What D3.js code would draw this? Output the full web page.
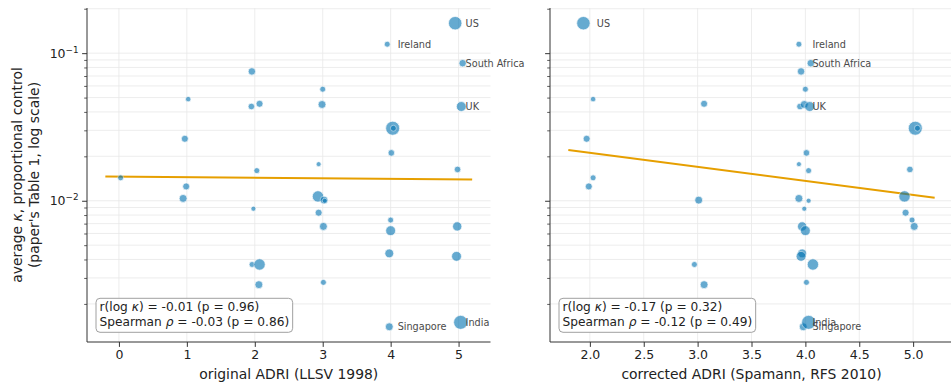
<!DOCTYPE html>
<html>
<head>
<meta charset="utf-8">
<script src="https://cdn.jsdelivr.net/npm/d3@7"></script>
<style>
  body { margin: 0; background: #fff; }
  svg { display: block; }
  text { font-family: "DejaVu Sans", sans-serif; }
</style>
</head>
<body>
<svg id="chart" width="951" height="383"></svg>
<script>
// Average kappa (proportional control) per country
const kappa = [0.1596, 0.115, 0.0855, 0.0752, 0.057, 0.0488, 0.0435, 0.0454, 0.0449, 0.0435,
  0.031, 0.031, 0.0263, 0.0211, 0.0177, 0.016, 0.0163, 0.0143, 0.0125, 0.01037,
  0.0107, 0.0101, 0.0100, 0.00883, 0.0083, 0.0074, 0.0067, 0.0067, 0.00627, 0.0044,
  0.0042, 0.0037, 0.0037, 0.0027, 0.0028, 0.0014, 0.0015];
// Original ADRI (LLSV 1998), jittered horizontally
const adriOriginal = [4.95, 3.95, 5.06, 1.957, 3.0, 1.02, 1.95, 2.07, 2.99, 5.04,
  4.03, 4.04, 0.97, 4.01, 2.94, 2.03, 4.985, 0.025, 0.99, 0.945,
  2.93, 3.02, 3.03, 1.98, 2.94, 4.0, 3.01, 4.98, 4.0, 3.98,
  4.97, 1.96, 2.07, 2.06, 3.01, 3.98, 5.03];
// Corrected ADRI (Spamann, RFS 2010), same jitter
const adriCorrected = [1.94, 3.94, 4.05, 3.96, 4.0, 2.03, 3.95, 3.06, 3.99, 4.04,
  5.02, 5.04, 1.97, 4.01, 3.94, 4.03, 4.97, 2.03, 1.99, 3.94,
  4.92, 3.01, 4.03, 3.99, 4.93, 4.99, 5.01, 3.97, 4.0, 3.97,
  3.96, 2.97, 4.07, 3.06, 4.01, 3.98, 4.03];
// Marker weight (area-proportional)
const weight = [46, 9, 14, 14, 9, 7.5, 11, 12.5, 16, 25,
  50, 9, 12.5, 11, 6.4, 9, 11, 9, 12.5, 16,
  33, 16, 6.4, 6.4, 12.5, 9, 16, 22, 25, 20,
  25, 9, 33, 16, 9, 16, 50];
const country = ["US", "Ireland", "South Africa", "", "", "", "", "", "", "UK",
  "", "", "", "", "", "", "", "", "", "",
  "", "", "", "", "", "", "", "", "", "",
  "", "", "", "", "", "Singapore", "India"];

// Fitted log-linear trend endpoints
const fitOriginalX = [-0.2, 5.2];
const fitOriginalK = [0.01462, 0.01393];
const fitCorrectedX = [1.8, 5.2];
const fitCorrectedK = [0.0221, 0.01047];

// Correlation statistics: r(log kappa), p, Spearman rho, p
const statsOriginal = [-0.01, 0.96, -0.03, 0.86];
const statsCorrected = [-0.17, 0.32, -0.12, 0.49];

// Axis ticks
const ticksOriginal = [0, 1, 2, 3, 4, 5];
const ticksCorrected = [2.0, 2.5, 3.0, 3.5, 4.0, 4.5, 5.0];
const yMajor = [0.01, 0.1];
const yMajorLabels = [["10", "\u22122"], ["10", "\u22121"]];

const svg = d3.select("#chart");
const plotTop = 8, plotBottom = 342;
const y = d3.scaleLog().domain([0.001104, 0.2023]).range([plotBottom, plotTop]);
const r = d3.scaleSqrt().domain([0, 50]).range([0, 7]);
const yMinor = y.ticks().filter(v => !yMajor.some(m => Math.abs(m - v) / m < 1e-6));

const blue = "#0072B2", orange = "#E69F00", gridColor = "#e8e8e8", ink = "#333";

function panel(opt) {
  const x = d3.scaleLinear().domain(opt.domain).range([opt.left, opt.right]);
  const g = svg.append("g");

  // grid
  g.append("g").selectAll("line").data(y.ticks()).join("line")
    .attr("x1", opt.left).attr("x2", opt.right)
    .attr("y1", d => y(d)).attr("y2", d => y(d))
    .attr("stroke", gridColor).attr("stroke-width", 0.8);
  g.append("g").selectAll("line").data(opt.ticks).join("line")
    .attr("x1", d => x(d)).attr("x2", d => x(d))
    .attr("y1", plotTop).attr("y2", plotBottom)
    .attr("stroke", gridColor).attr("stroke-width", 0.8);

  // trend line
  g.append("path")
    .datum(d3.zip(opt.fitX, opt.fitK))
    .attr("d", d3.line().x(d => x(d[0])).y(d => y(d[1])))
    .attr("fill", "none").attr("stroke", orange).attr("stroke-width", 2);

  // points
  g.append("g").selectAll("circle").data(d3.range(kappa.length)).join("circle")
    .attr("cx", i => x(opt.xs[i])).attr("cy", i => y(kappa[i]))
    .attr("r", i => r(weight[i]))
    .attr("fill", blue).attr("stroke", "#fff").attr("stroke-width", 0.7)
    .attr("opacity", 0.6);

  // country labels
  g.append("g").selectAll("text").data(d3.range(kappa.length).filter(i => country[i])).join("text")
    .attr("x", i => x(Math.round(opt.xs[i])) + 7)
    .attr("y", i => y(kappa[i]))
    .attr("dy", "0.35em")
    .attr("font-size", 9.7).attr("fill", "#4a4a4a")
    .text(i => country[i]);

  // spines
  g.append("line").attr("x1", opt.left).attr("x2", opt.left).attr("y1", plotTop).attr("y2", plotBottom)
    .attr("stroke", ink).attr("stroke-width", 1);
  g.append("line").attr("x1", opt.left).attr("x2", opt.right).attr("y1", plotBottom).attr("y2", plotBottom)
    .attr("stroke", ink).attr("stroke-width", 1);

  // x axis
  const ax = g.append("g").attr("transform", `translate(0,${plotBottom})`)
    .call(d3.axisBottom(x).tickValues(opt.ticks).tickFormat(opt.fmt).tickSize(4.9).tickSizeOuter(0).tickPadding(3.2));
  ax.select(".domain").remove();
  ax.selectAll(".tick line").attr("stroke", ink);
  ax.selectAll(".tick text").attr("fill", "#222").attr("font-size", 12.5).attr("font-family", "DejaVu Sans");

  // y axis ticks
  const ay = g.append("g").attr("transform", `translate(${opt.left},0)`)
    .call(d3.axisLeft(y).tickValues(yMajor).tickFormat("").tickSize(4.9).tickSizeOuter(0));
  ay.select(".domain").remove();
  ay.selectAll(".tick line").attr("stroke", ink);
  const am = g.append("g").attr("transform", `translate(${opt.left},0)`)
    .call(d3.axisLeft(y).tickValues(yMinor).tickFormat("").tickSize(2.8).tickSizeOuter(0));
  am.select(".domain").remove();
  am.selectAll(".tick line").attr("stroke", ink).attr("stroke-width", 0.8);

  if (opt.yLabels) {
    yMajor.forEach((v, k) => {
      const t = g.append("text").attr("x", opt.left - 8.5).attr("y", y(v)).attr("dy", "0.35em")
        .attr("text-anchor", "end").attr("font-size", 12.5).attr("fill", "#222");
      t.append("tspan").text(yMajorLabels[k][0]);
      t.append("tspan").attr("dy", -5).attr("font-size", 8.8).text(yMajorLabels[k][1]);
    });
    const l1 = g.append("text").attr("transform", `translate(22,${(plotTop + plotBottom) / 2}) rotate(-90)`)
      .attr("text-anchor", "middle").attr("font-size", 13.9).attr("fill", "#222");
    l1.append("tspan").text("average ");
    l1.append("tspan").attr("font-style", "italic").text("\u03ba");
    l1.append("tspan").text(", proportional control");
    g.append("text").attr("transform", `translate(38.7,${(plotTop + plotBottom) / 2}) rotate(-90)`)
      .attr("text-anchor", "middle").attr("font-size", 13.9).attr("fill", "#222")
      .text("(paper's Table 1, log scale)");
  }

  // x label
  g.append("text").attr("x", (opt.left + opt.right) / 2).attr("y", 379)
    .attr("text-anchor", "middle").attr("font-size", 13.9).attr("fill", "#222")
    .text(opt.xLabel);

  // statistics box
  const s = opt.stats;
  const box = g.append("g");
  const rect = box.append("rect");
  const tx = opt.left + 12.5;
  const t1 = box.append("text").attr("x", tx).attr("y", 310.7).attr("font-size", 12.2).attr("fill", "#222");
  t1.append("tspan").text("r(log ");
  t1.append("tspan").attr("font-style", "italic").text("\u03ba");
  t1.append("tspan").text(`) = ${s[0].toFixed(2)} (p = ${s[1].toFixed(2)})`);
  const t2 = box.append("text").attr("x", tx).attr("y", 325.7).attr("font-size", 12.2).attr("fill", "#222");
  t2.append("tspan").text("Spearman ");
  t2.append("tspan").attr("font-style", "italic").text("\u03c1");
  t2.append("tspan").text(` = ${s[2].toFixed(2)} (p = ${s[3].toFixed(2)})`);
  const b1 = t1.node().getBBox(), b2 = t2.node().getBBox();
  const bx0 = Math.min(b1.x, b2.x) - 3.5, bx1 = Math.max(b1.x + b1.width, b2.x + b2.width) + 3.5;
  rect.attr("x", bx0).attr("y", 298.3).attr("width", bx1 - bx0).attr("height", 34)
    .attr("rx", 4).attr("fill", "#fff").attr("fill-opacity", 0.9)
    .attr("stroke", "#a0a0a0").attr("stroke-width", 1);
}

panel({
  left: 87, right: 490.5, domain: [-0.47, 5.47], ticks: ticksOriginal, fmt: d3.format("d"),
  xs: adriOriginal, fitX: fitOriginalX, fitK: fitOriginalK, stats: statsOriginal,
  xLabel: "original ADRI (LLSV 1998)", yLabels: true
});
panel({
  left: 550, right: 953, domain: [1.63, 5.37], ticks: ticksCorrected, fmt: d3.format(".1f"),
  xs: adriCorrected, fitX: fitCorrectedX, fitK: fitCorrectedK, stats: statsCorrected,
  xLabel: "corrected ADRI (Spamann, RFS 2010)", yLabels: false
});
</script>
</body>
</html>
